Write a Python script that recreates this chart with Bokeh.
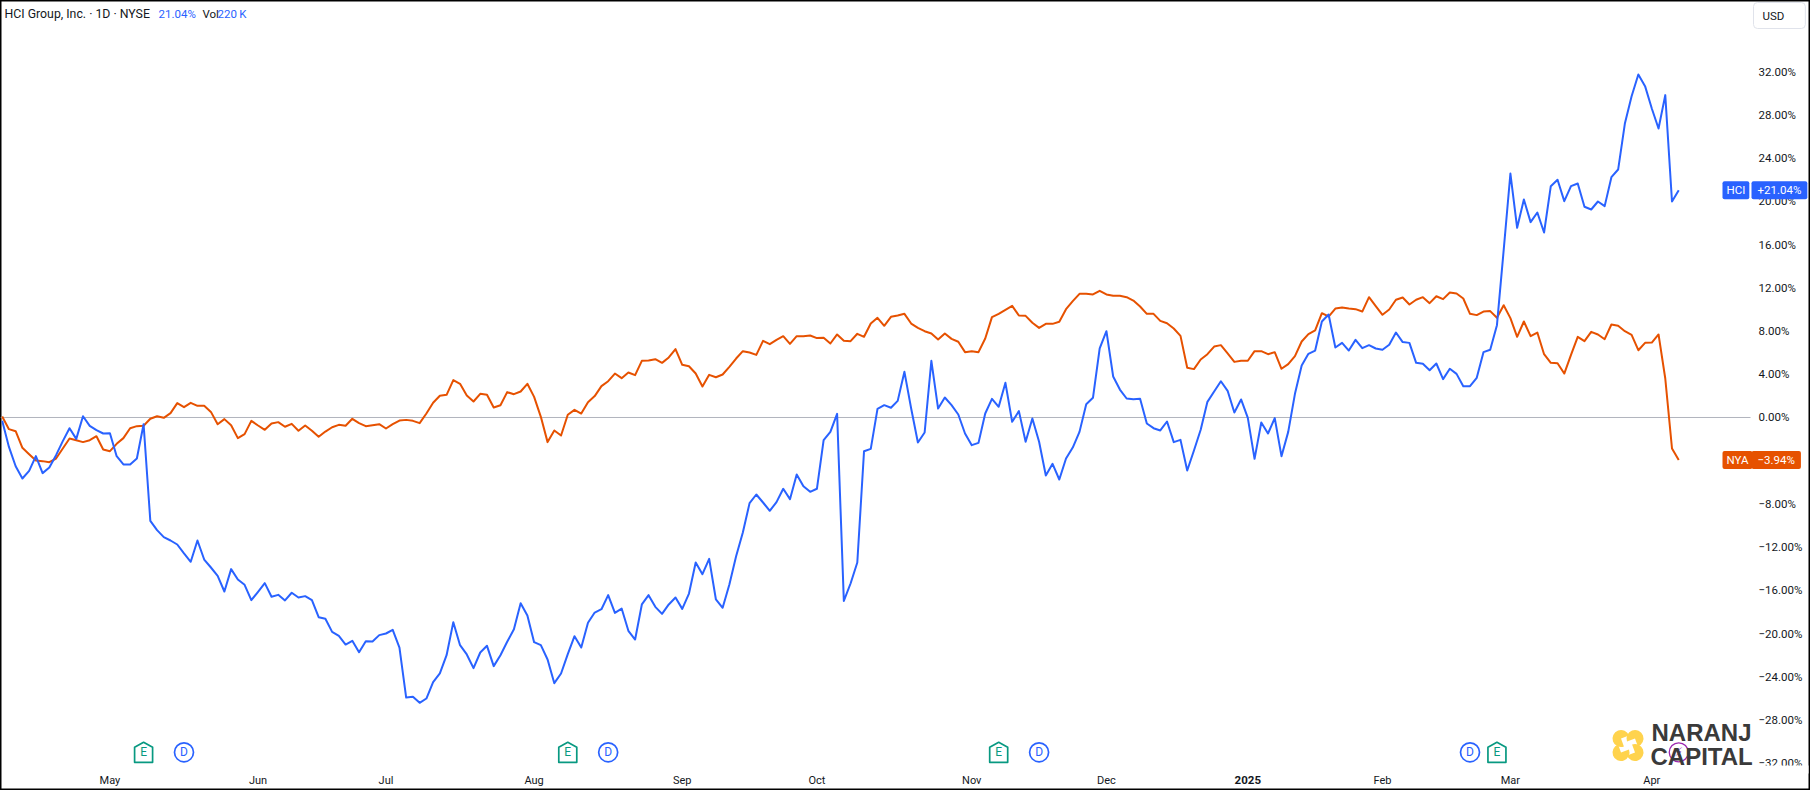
from bokeh.core.properties import value
from bokeh.embed import file_html
from bokeh.models import BoxAnnotation, FixedTicker, Label, Range1d
from bokeh.plotting import figure
from bokeh.resources import INLINE

# percent change from the first bar, one value per daily bar
hci_pct = [
    -0.31, -2.72, -4.51, -5.65, -4.94, -3.58, -5.15, -4.63, -3.49, -2.19,
    -0.99, -1.98, 0.12, -0.77, -1.17, -1.48, -1.45, -3.58, -4.35, -4.35,
    -3.80, -0.62, -9.57, -10.43, -11.08, -11.39, -11.76, -12.59, -13.36, -11.39,
    -13.15, -13.89, -14.66, -16.11, -14.04, -15.00, -15.49, -16.91, -16.14, -15.34,
    -16.60, -16.42, -16.94, -16.23, -16.67, -16.54, -16.91, -18.49, -18.64, -19.85,
    -20.22, -21.02, -20.68, -21.73, -20.71, -20.74, -20.15, -20.00, -19.66, -21.30,
    -25.93, -25.86, -26.42, -26.02, -24.51, -23.70, -22.01, -18.95, -21.08, -21.94,
    -23.21, -21.76, -21.14, -23.02, -22.01, -20.77, -19.60, -17.19, -18.33, -20.80,
    -21.08, -22.41, -24.60, -23.70, -21.91, -20.25, -21.30, -19.01, -18.06, -17.75,
    -16.45, -18.09, -17.69, -19.75, -20.56, -17.31, -16.45, -17.53, -18.18, -17.31,
    -16.67, -17.72, -16.30, -13.43, -14.51, -13.09, -16.85, -17.62, -15.46, -12.84,
    -10.65, -7.93, -7.13, -7.87, -8.64, -7.84, -6.60, -7.56, -5.28, -6.36,
    -6.88, -6.60, -2.10, -1.33, 0.34, -16.98, -15.37, -13.43, -3.12, -2.90,
    0.80, 1.14, 0.90, 1.54, 4.23, 0.83, -2.31, -1.39, 5.25, 0.83,
    1.85, 1.14, 0.28, -1.48, -2.56, -2.35, 0.37, 1.73, 0.99, 3.21,
    -0.40, 0.59, -2.25, -0.09, -2.25, -5.37, -4.29, -5.74, -3.80, -2.78,
    -1.33, 1.23, 1.82, 6.39, 7.99, 3.80, 2.59, 1.76, 1.70, 1.73,
    -0.56, -0.99, -1.20, -0.37, -2.28, -2.07, -4.91, -3.06, -1.14, 1.45,
    2.41, 3.36, 2.47, 0.46, 1.67, -0.03, -3.83, -0.46, -1.48, -0.06,
    -3.58, -1.33, 2.19, 4.81, 5.90, 6.20, 8.89, 9.54, 6.48, 6.91,
    6.20, 7.19, 6.42, 6.70, 6.39, 6.27, 6.73, 7.87, 6.98, 6.91,
    5.06, 4.97, 4.38, 5.00, 3.55, 4.51, 4.04, 2.90, 2.90, 3.67,
    6.05, 6.27, 8.55, 15.49, 22.59, 17.56, 20.19, 18.09, 18.98, 17.13,
    21.42, 22.01, 20.03, 21.42, 21.67, 19.51, 19.26, 20.00, 19.57, 22.25,
    22.96, 27.22, 29.75, 31.76, 30.68, 28.61, 26.76, 29.85, 20.00, 21.04,
]
nya_pct = [
    0.10, -1.08, -1.27, -2.81, -3.40, -3.98, -4.04, -4.14, -3.80, -2.87,
    -1.94, -2.10, -2.28, -2.10, -1.73, -2.96, -3.12, -2.44, -1.91, -0.99,
    -0.80, -0.77, -0.12, 0.12, -0.03, 0.40, 1.33, 0.96, 1.36, 1.08,
    1.08, 0.52, -0.62, -0.15, -0.71, -1.91, -1.54, -0.31, -0.74, -1.14,
    -0.56, -0.43, -0.86, -0.59, -1.23, -0.74, -1.23, -1.79, -1.30, -0.90,
    -0.68, -0.77, -0.12, -0.52, -0.80, -0.71, -0.62, -1.02, -0.62, -0.28,
    -0.22, -0.31, -0.52, 0.37, 1.36, 2.01, 2.10, 3.46, 3.12, 2.04,
    1.48, 2.19, 2.10, 0.93, 1.14, 2.35, 2.16, 2.41, 3.12, 1.91,
    0.06, -2.28, -1.20, -1.67, 0.25, 0.71, 0.37, 1.42, 1.98, 2.90,
    3.36, 4.07, 3.64, 4.17, 3.92, 5.25, 5.28, 5.40, 5.06, 5.56,
    6.33, 4.88, 4.75, 4.07, 2.87, 3.95, 3.73, 3.98, 4.69, 5.46,
    6.14, 6.02, 5.80, 7.10, 6.79, 7.19, 7.53, 6.82, 7.53, 7.53,
    7.59, 7.35, 7.38, 6.85, 7.69, 7.10, 7.07, 7.75, 7.47, 8.70,
    9.23, 8.49, 9.32, 9.44, 9.60, 8.70, 8.30, 7.99, 7.78, 7.22,
    7.78, 7.28, 7.01, 6.05, 6.14, 6.05, 7.31, 9.29, 9.60, 9.97,
    10.34, 9.44, 9.41, 8.77, 8.30, 8.67, 8.67, 8.86, 10.03, 10.77,
    11.45, 11.45, 11.39, 11.73, 11.39, 11.27, 11.27, 11.14, 10.83, 10.28,
    9.60, 9.60, 8.95, 8.73, 8.24, 7.56, 4.60, 4.48, 5.37, 5.86,
    6.57, 6.70, 5.93, 5.15, 5.25, 5.25, 6.14, 6.14, 5.86, 6.05,
    4.51, 4.94, 5.68, 7.04, 7.72, 8.06, 9.66, 9.35, 10.09, 10.19,
    10.09, 10.03, 9.81, 11.14, 10.31, 9.51, 10.00, 10.90, 11.11, 10.46,
    10.90, 11.14, 10.59, 11.23, 10.96, 11.57, 11.48, 11.02, 9.60, 9.48,
    9.81, 9.85, 9.23, 10.40, 9.20, 7.47, 8.89, 7.53, 7.87, 5.86,
    5.06, 5.03, 4.07, 5.80, 7.47, 7.07, 7.93, 7.69, 7.25, 8.61,
    8.49, 7.99, 7.65, 6.23, 6.91, 6.94, 7.69, 3.61, -2.87, -3.94,
]
bars = list(range(len(hci_pct)))

month_ticks = [16, 38, 57, 79, 101, 121, 144, 164, 205, 224, 245]
month_labels = ["May", "Jun", "Jul", "Aug", "Sep", "Oct", "Nov", "Dec", "Feb", "Mar", "Apr"]
year_tick = 185
year_label = "2025"
pct_ticks = [32, 28, 24, 20, 16, 12, 8, 4, 0, -8, -12, -16, -20, -24, -28, -32]

earnings_bars = [21, 84, 148, 222]
dividend_bars = [27, 90, 154, 218]
split_bars = [249]

BLUE = "#2962ff"
ORANGE = "#e65100"
TEAL = "#089981"
PURPLE = "#9c27b0"
INK = "#131722"
FONT = "Roboto"

# the frame fills the whole picture, the axes sit inside it at these pixel positions
WIDTH, HEIGHT = 1810, 790
PANE_RIGHT, PANE_BOTTOM = 1750, 765
X_START, X_END = -0.2525, 268.57
Y_START, Y_END = -34.537, 38.611
PX_PER_BAR = WIDTH / (X_END - X_START)
PX_PER_PCT = HEIGHT / (Y_END - Y_START)
marker_y = -31.0


def bar_at(cx):
    return X_START + cx / PX_PER_BAR


def pct_at(cy):
    return Y_END - cy / PX_PER_PCT


p = figure(frame_width=WIDTH, frame_height=HEIGHT, output_backend="svg", toolbar_location=None,
           x_range=Range1d(X_START, X_END), y_range=Range1d(Y_START, Y_END), y_axis_location="right",
           min_border_left=0, min_border_top=0, min_border_right=0, min_border_bottom=0,
           background_fill_color="white", border_fill_color="white", outline_line_color="black",
           outline_line_width=2)
p.grid.visible = False

p.xaxis.fixed_location = pct_at(PANE_BOTTOM)
p.yaxis.fixed_location = bar_at(PANE_RIGHT)
p.xaxis.ticker = FixedTicker(ticks=month_ticks)
p.xaxis.major_label_overrides = dict(zip(month_ticks, month_labels))
p.yaxis.ticker = FixedTicker(ticks=pct_ticks)
p.yaxis.major_label_overrides = {v: f"{v:.2f}%".replace("-", "\u2212") for v in pct_ticks}
for ax in (p.xaxis, p.yaxis):
    ax.axis_line_color = None
    ax.major_tick_line_color = None
    ax.minor_tick_line_color = None
    ax.major_tick_out = 0
    ax.major_label_text_font = FONT
    ax.major_label_text_color = INK
p.xaxis.major_label_text_font_size = "11px"
p.yaxis.major_label_text_font_size = "11.5px"
p.xaxis.major_label_standoff = 8
p.yaxis.major_label_standoff = 8

p.segment(bar_at(0), 0, bar_at(PANE_RIGHT), 0, line_color="#b2b5be", line_width=1)
p.line(bars, nya_pct, line_color=ORANGE, line_width=2, line_join="round")
p.line(bars, hci_pct, line_color=BLUE, line_width=2, line_join="round")


def house(bar):
    hw = 9 / PX_PER_BAR
    body = 10 / PX_PER_PCT
    roof = 5 / PX_PER_PCT
    xs = [bar - hw, bar, bar + hw, bar + hw, bar - hw]
    ys = [marker_y + body - roof, marker_y + body, marker_y + body - roof, marker_y - body, marker_y - body]
    return xs, ys


# earnings, dividend and split flags along the bottom
shapes = [house(b) for b in earnings_bars]
p.patches([s[0] for s in shapes], [s[1] for s in shapes], fill_color="white", line_color=TEAL, line_width=1.7,
          line_join="round")
p.text(earnings_bars, [marker_y] * len(earnings_bars), text=["E"] * len(earnings_bars), text_color=TEAL,
       text_font=value(FONT), text_font_size="12px", text_align="center", text_baseline="middle")
p.scatter(dividend_bars, [marker_y] * len(dividend_bars), marker="circle", size=19, fill_color="white",
          line_color=BLUE, line_width=1.7)
p.text(dividend_bars, [marker_y] * len(dividend_bars), text=["D"] * len(dividend_bars), text_color=BLUE,
       text_font=value(FONT), text_font_size="12px", text_align="center", text_baseline="middle")
p.scatter(split_bars, [marker_y] * len(split_bars), marker="circle", size=19, fill_color=None,
          line_color=PURPLE, line_width=1.3)
p.text(split_bars, [marker_y] * len(split_bars), text=["\u26a1"] * len(split_bars), text_color=PURPLE,
       text_font=value("DejaVu Sans"), text_font_size="12px", text_align="center", text_baseline="middle")

# logo: four notched petals of a pinwheel and the name
LOGO_X, LOGO_Y = 1627.5, 745
for dx, dy, start in [(-7, -7, 20), (7, -7, -70), (7, 7, 200), (-7, 7, 110)]:
    p.wedge(bar_at(LOGO_X + dx), pct_at(LOGO_Y + dy), radius=8.5, radius_units="screen", start_angle=start,
            end_angle=start + 270, start_angle_units="deg", end_angle_units="deg", fill_color="#ffd34d",
            line_color=None)


def canvas_label(x, y, text, color=INK, size="12px", font=FONT, style="normal", **kw):
    p.add_layout(Label(x=x, y=y, x_units="canvas", y_units="canvas", text=text, text_color=color, text_font=font,
                       text_font_size=size, text_font_style=style, text_baseline="middle", **kw))


canvas_label(1651, 732, "NARANJ", color="#3a3a3a", size="24px", font="Liberation Sans", style="bold")
canvas_label(1650, 756, "CAPITAL", color="#3a3a3a", size="24px", font="Liberation Sans", style="bold")

p.add_layout(Label(x=year_tick, y=779, x_units="data", y_units="canvas", text=year_label, text_color=INK,
                   text_font=FONT, text_font_size="11.5px", text_font_style="bold", text_align="center",
                   text_baseline="middle"))

# header line
canvas_label(4, 13, "HCI Group, Inc. \u00b7 1D \u00b7 NYSE", size="12.3px")
canvas_label(158, 13, "21.04%", color=BLUE, size="11.5px")
canvas_label(202, 13, "Vol", size="11.5px")
canvas_label(217, 13, "220\u2009K", color=BLUE, size="11.5px")

# currency button
canvas_label(1753, 15, "USD", size="11.5px", border_line_color="#e0e3eb", border_radius=4, padding=(9, 21, 6, 6),
             background_fill_color="white")

# the pane cuts the lowest price label in half
p.add_layout(BoxAnnotation(left=PANE_RIGHT, right=WIDTH - 2, top=PANE_BOTTOM, bottom=PANE_BOTTOM + 8,
                           left_units="canvas", right_units="canvas", top_units="canvas", bottom_units="canvas",
                           fill_color="white", fill_alpha=1, line_color=None))


def price_tag(name, val, color):
    text = f"{val:+.2f}%".replace("-", "\u2212")
    p.add_layout(Label(x=1722, y=val, x_units="canvas", y_units="data", text=name, text_color="white",
                       text_font=FONT, text_font_size="11.5px", text_baseline="middle", background_fill_color=color,
                       padding=(4, 2), border_radius=2))
    p.add_layout(Label(x=1751, y=val, x_units="canvas", y_units="data", text=text, text_color="white",
                       text_font=FONT, text_font_size="11.5px", text_baseline="middle", background_fill_color=color,
                       padding=(6, 2), border_radius=2))


price_tag("HCI", hci_pct[-1], BLUE)
price_tag("NYA", nya_pct[-1], ORANGE)

open("out.html", "w").write(file_html(p, INLINE))
